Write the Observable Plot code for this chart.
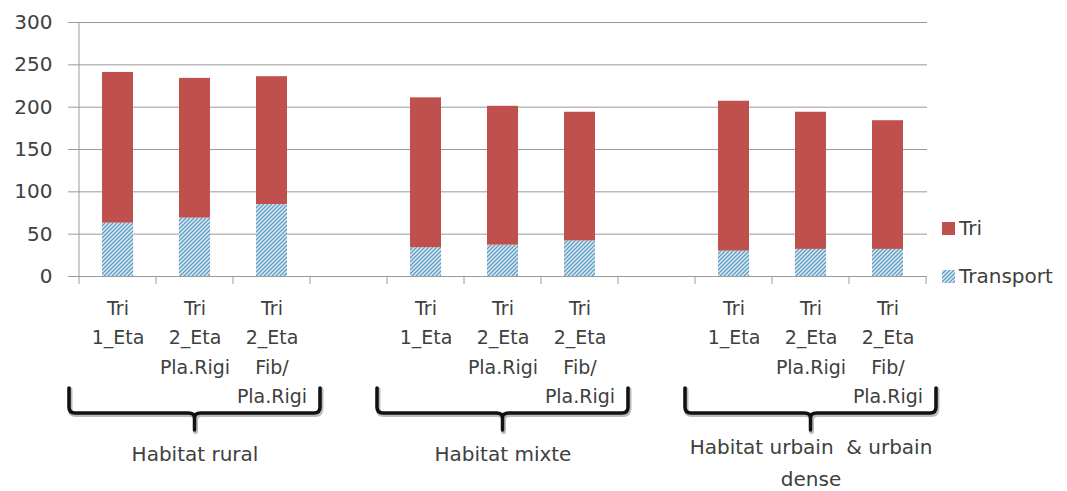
<!DOCTYPE html>
<html><head><meta charset="utf-8">
<script src="https://cdn.jsdelivr.net/npm/d3@7"></script>
<script src="https://cdn.jsdelivr.net/npm/@observablehq/plot@0.6"></script>
<style>
body{margin:0;background:#fff;font-family:"DejaVu Sans",sans-serif;}
#wrap{position:relative;width:1067px;height:491px;overflow:hidden;}
.leg{position:absolute;left:942px;height:24px;font-size:20px;color:#404040;display:flex;align-items:center;gap:4px;white-space:nowrap;}
.leg svg{display:block;}
</style></head><body><div id="wrap"></div>
<script>
// ---- data ----
const slots = ["r1","r2","r3","gap1","m1","m2","m3","gap2","u1","u2","u3"];
const barSlots = ["r1","r2","r3","m1","m2","m3","u1","u2","u3"];
const tickLabels = [
  "Tri\n1_Eta","Tri\n2_Eta\nPla.Rigi","Tri\n2_Eta\nFib/\nPla.Rigi",
  "Tri\n1_Eta","Tri\n2_Eta\nPla.Rigi","Tri\n2_Eta\nFib/\nPla.Rigi",
  "Tri\n1_Eta","Tri\n2_Eta\nPla.Rigi","Tri\n2_Eta\nFib/\nPla.Rigi"
];
const groupNames = ["Habitat rural","Habitat mixte","Habitat urbain  & urbain\ndense"];
const groupFirst = ["r1","m1","u1"];
const groupMid = ["r2","m2","u2"];
const groupLast = ["r3","m3","u3"];
const transport = [63,69,85,34,37,42,30,32,32];
const tri = [178,165,151,177,164,152,177,162,152];
const seriesNames = ["Transport","Tri"];
const yTicks = [0,50,100,150,200,250,300];

(function(){
const rows = barSlots.flatMap((s,i)=>[
  {slot:s, series:"Transport", value:transport[i]},
  {slot:s, series:"Tri", value:tri[i]}
]);
const groups = groupMid.map((s,i)=>({slot:s, name:groupNames[i], multi:groupNames[i].includes("\n")}));

const chart = Plot.plot({
  width:1067, height:491,
  marginLeft:77, marginRight:140, marginTop:22, marginBottom:215,
  style:{fontFamily:"DejaVu Sans", fontSize:"19px", background:"#fff"},
  x:{type:"band", domain:slots, paddingInner:0.6, paddingOuter:0.3, axis:null},
  y:{domain:[0,300], axis:null, label:null},
  color:{domain:seriesNames, range:["url(#hatch)","#c0504d"]},
  marks:[
    Plot.gridY(yTicks,{stroke:"#9a9a9a", strokeOpacity:1}),
    Plot.barY(rows, Plot.stackY({x:"slot", y:"value", fill:"series"})),
    Plot.ruleY([0],{stroke:"#9a9a9a"}),
    Plot.axisY({ticks:yTicks, tickSize:9, tickPadding:16, fontSize:20, stroke:"#9a9a9a", fill:"#404040", label:null}),
    Plot.text(barSlots,{x:d=>d, y:()=>0, text:(d,i)=>tickLabels[i], lineAnchor:"top", dy:17, lineHeight:1.56, fontSize:19, fill:"#404040"}),
    Plot.text(groups.filter(d=>!d.multi),{x:"slot", y:()=>0, text:"name", lineAnchor:"middle", dy:178, fontSize:20, fill:"#404040"}),
    Plot.text(groups.filter(d=>d.multi),{x:"slot", y:()=>0, text:"name", lineAnchor:"middle", dy:183, lineHeight:1.6, fontSize:20, fill:"#404040"})
  ]
});
const wrap = document.getElementById("wrap");
wrap.appendChild(chart);

// hatch pattern
const svg = d3.select(chart);
const defs = svg.insert("defs",":first-child");
const pat = defs.append("pattern").attr("id","hatch").attr("patternUnits","userSpaceOnUse")
  .attr("width",4).attr("height",4);
pat.append("rect").attr("width",4).attr("height",4).attr("fill","#dcebf4");
pat.append("path").attr("d","M-1,1 L1,-1 M0,4 L4,0 M3,5 L5,3").attr("stroke","#5f9cc4").attr("stroke-width",1.3);

// axis ticks, y axis line, braces from the library's scales
const xs = chart.scale("x"), ys = chart.scale("y");
const bw = xs.bandwidth, step = xs.step, off = (step-bw)/2;
const y0 = ys.apply(0), yTop = ys.apply(300);
const g = svg.append("g");
const bounds = slots.map(s=>xs.apply(s)-off).concat([xs.apply(slots[slots.length-1])+bw+off]);
bounds.forEach(x=>g.append("line").attr("x1",x).attr("x2",x).attr("y1",y0).attr("y2",y0+8).attr("stroke","#9a9a9a"));
g.append("line").attr("x1",bounds[0]).attr("x2",bounds[0]).attr("y1",yTop).attr("y2",y0).attr("stroke","#9a9a9a");

const bTop = y0+112, bBot = y0+137, bTip = y0+154;
groupFirst.forEach((a,i)=>{
  const b = groupLast[i];
  const s0 = xs.apply(a)-off, s1 = xs.apply(b)+bw+off;
  const L = s0-10, R = s1+10, C = (s0+s1)/2;
  const d = `M${L},${bTop} L${L},${bBot-6} Q${L},${bBot} ${L+6},${bBot} L${C-6},${bBot} Q${C},${bBot} ${C},${bBot+5} L${C},${bTip}
             M${C},${bBot+5} Q${C},${bBot} ${C+6},${bBot} L${R-6},${bBot} Q${R},${bBot} ${R},${bBot-6} L${R},${bTop}`;
  g.append("path").attr("d",d).attr("fill","none").attr("stroke","#bbb").attr("stroke-width",5)
    .attr("transform","translate(1,1.5)").attr("stroke-linejoin","round").attr("stroke-linecap","round");
  g.append("path").attr("d",d).attr("fill","none").attr("stroke","#111").attr("stroke-width",3.5)
    .attr("stroke-linejoin","round").attr("stroke-linecap","round");
});

// legend
[["Tri","#c0504d",216],["Transport","url(#hatch)",264]].forEach(([name,fill,t])=>{
  const div = document.createElement("div");
  div.className="leg"; div.style.top=t+"px";
  div.innerHTML = `<svg width="13" height="13"><rect width="13" height="13" fill="${fill}"/></svg><span>${name}</span>`;
  wrap.appendChild(div);
});
})();
</script></body></html>
